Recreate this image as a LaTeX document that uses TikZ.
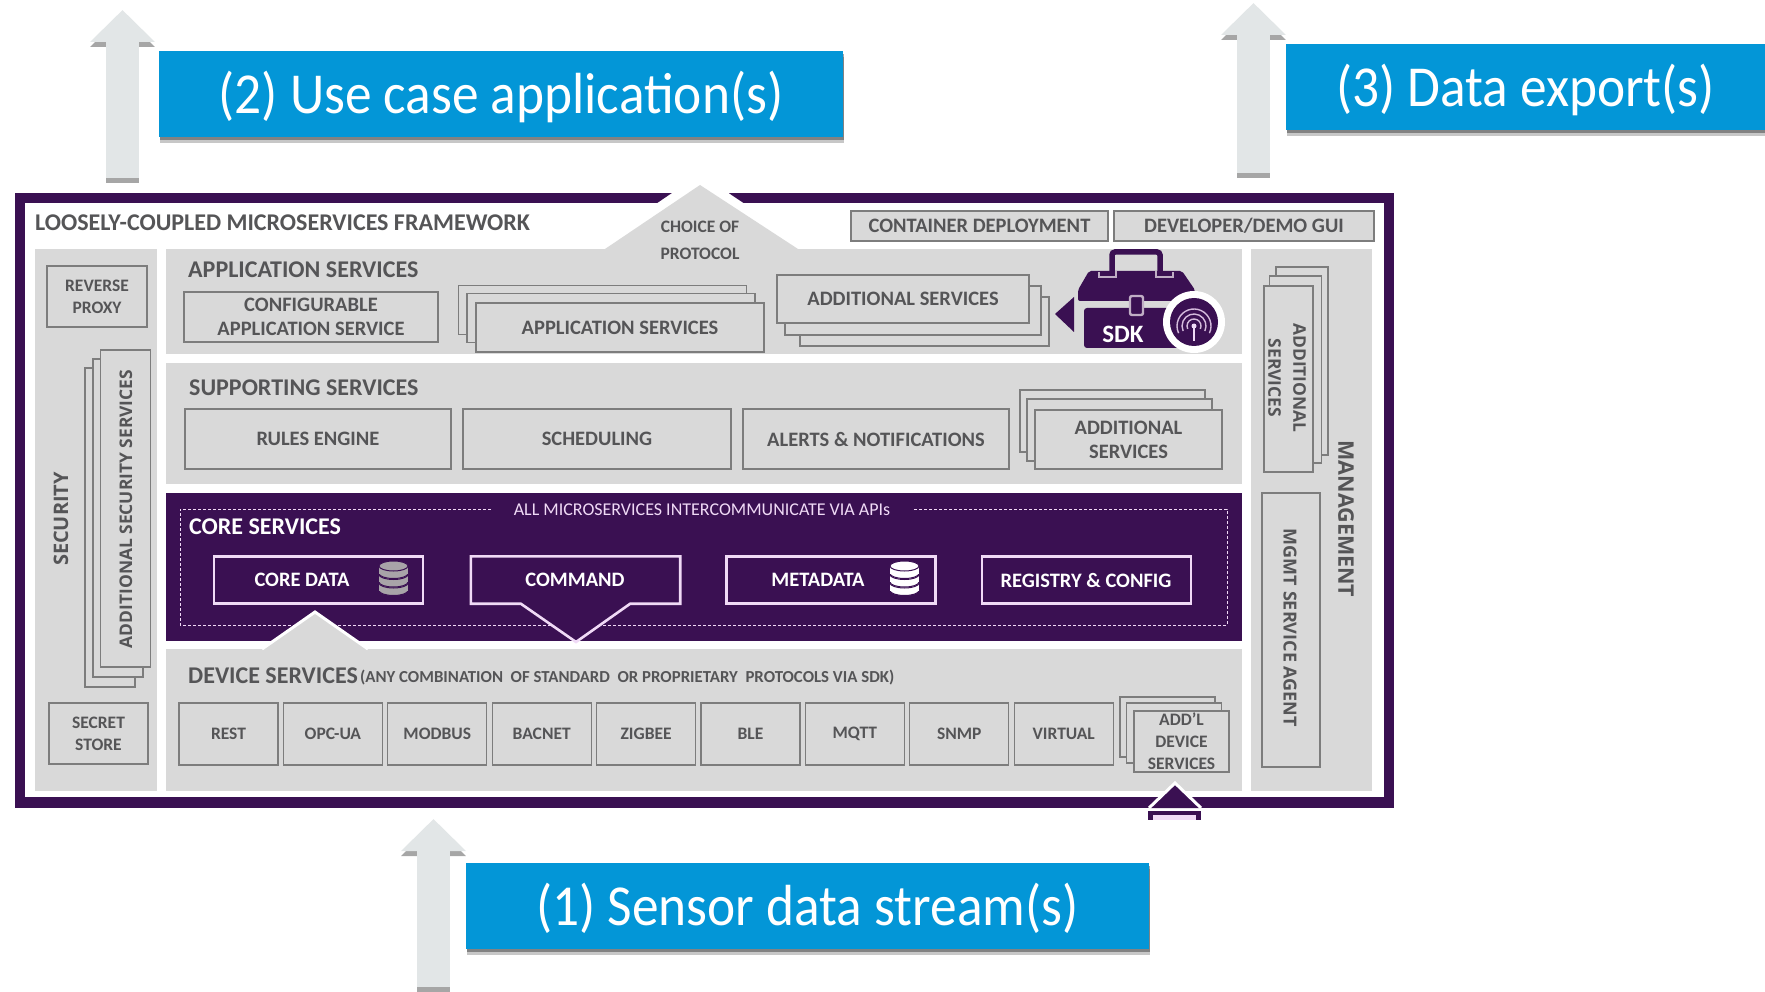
\documentclass[tikz,border=0pt]{standalone}
\usepackage{xcolor}
\usepackage{fontspec}
\setmainfont{Carlito}
\newfontfamily\widefont{Open Sans}
\newfontfamily\bannerfont[FakeStretch=0.92]{Carlito}
\usetikzlibrary{positioning,calc,arrows.meta,shadows}

\begin{document}
\begin{tikzpicture}[x=1pt,y=-1pt]
	\definecolor{framecolor}{RGB}{58,16,82}
	\definecolor{panelcolor}{RGB}{217,217,217}
	\definecolor{boxcolor}{RGB}{125,125,125}
	\definecolor{labelcolor}{RGB}{85,85,87}
	\definecolor{linecolor}{RGB}{240,218,246}
	\definecolor{bannercolor}{RGB}{3,150,215}
	\definecolor{arrowcolor}{RGB}{226,230,231}
	\definecolor{dbcolor}{RGB}{168,164,168}
	\def\boxfont{\bfseries\fontsize{20.5}{24}\selectfont}
	\def\headfont{\bfseries\fontsize{24}{24}\selectfont}
	\def\smallfont{\bfseries\fontsize{17.5}{22}\selectfont}
	\tikzstyle{panel}=[rectangle, fill=panelcolor, inner sep=0pt]
	\tikzstyle{svc}=[rectangle, draw=boxcolor, fill=panelcolor, line width=1.3pt, text=labelcolor, font=\boxfont, align=center, inner sep=0pt]
	\tikzstyle{devsvc}=[svc, font=\smallfont, minimum width=99pt, minimum height=62pt]
	\tikzstyle{head}=[text=labelcolor, font=\headfont, anchor=west, inner sep=0pt]
	\tikzstyle{wide}=[text=labelcolor, font=\widefont\bfseries\fontsize{17.4}{25}\selectfont, align=center, inner sep=0pt]
	\tikzstyle{core}=[rectangle, draw=linecolor, fill=framecolor, line width=2.6pt, minimum width=209pt, minimum height=47pt, inner sep=0pt]
	\tikzstyle{coretext}=[text=white, font=\boxfont, inner sep=0pt]
	\tikzstyle{banner}=[rectangle, fill=bannercolor, minimum height=86pt, inner sep=0pt, drop shadow={shadow xshift=1pt, shadow yshift=-6pt, opacity=.22, fill=black}, drop shadow={shadow xshift=1pt, shadow yshift=-3pt, opacity=.35, fill=black}]
	\tikzstyle{bannertext}=[text=white, font=\bannerfont\fontsize{58}{60}\selectfont, inner sep=0pt, yshift=-2.5pt]
	\tikzstyle{blockarrow}=[-{Triangle[length=32pt,width=63pt]}, line width=33pt, draw=arrowcolor]
	\tikzstyle{blockshadow}=[-{Triangle[length=32pt,width=63pt]}, line width=33pt, draw=black!35, transform canvas={yshift=-5pt}]
	\def\dbicon#1#2#3{
		\foreach \k in {2,1,0} {
			\pgfmathsetmacro{\yk}{#2+8.5*\k}
			\draw[framecolor, fill=#3, line width=1pt] (#1,\yk+7.5) ellipse [x radius=14.5pt, y radius=5pt];
			\fill[#3] (#1-14.5,\yk) rectangle (#1+14.5,\yk+7.5);
			\draw[framecolor, fill=#3, line width=1pt] (#1,\yk) ellipse [x radius=14.5pt, y radius=5pt];
		}
	}
	\useasboundingbox (0,0) rectangle (1765,992);

	% Draw the frame
	\fill[framecolor] (15,193) rectangle (1394,808);
	\fill[white] (25,203) rectangle (1384,797);
	\fill[white] (590,249) -- (700,174) -- (812,249) -- cycle;
	% Draw the grey panels
	\node[panel, minimum width=122pt, minimum height=542pt] (security) at (96,520) {};
	\node[panel, minimum width=1076pt, minimum height=105pt] (appsvc) at (704,301.5) {};
	\node[panel, minimum width=1076pt, minimum height=121pt] (supsvc) at (704,423.5) {};
	\node[panel, minimum width=1076pt, minimum height=148pt, fill=framecolor] (coresvc) at (704,567) {};
	\node[panel, minimum width=1076pt, minimum height=142pt] (devpanel) at (704,720) {};
	\node[panel, minimum width=121pt, minimum height=542pt] (mgmt) at (1311.5,520) {};
	\fill[panelcolor] (605,249) -- (700,185) -- (798,249) -- cycle;

	% Top row
	\node[head, text=labelcolor] (title) at (35,223) {LOOSELY-COUPLED MICROSERVICES FRAMEWORK};
	\node[text=labelcolor, font=\smallfont, align=center, inner sep=0pt] (choice) at (700,240) {CHOICE OF\\[5pt]PROTOCOL};
	\node[svc, minimum width=257pt, minimum height=30pt] (container) at (979.5,226) {CONTAINER DEPLOYMENT};
	\node[svc, minimum width=260pt, minimum height=30pt] (devgui) at (1244,226) {DEVELOPER/DEMO GUI};

	% Security column
	\node[svc, font=\smallfont, minimum width=100pt, minimum height=61pt] (proxy) at (97,296.5) {REVERSE\\PROXY};
	\foreach \name/\x/\ytop/\ybot in {3/110/368/687,2/118/359/677,1/125.5/350/667}
	 \node[svc, minimum width=50pt, minimum height=\ybot pt-\ytop pt] (secstack-\name) at (\x,{(\ytop+\ybot)/2}) {};
	\node[wide, rotate=90] (seclabel) at (126,509) {ADDITIONAL SECURITY SERVICES};
	\node[wide, rotate=90, font=\widefont\bfseries\fontsize{20}{20}\selectfont] (securitylabel) at (61,519) {SECURITY};
	\node[svc, font=\smallfont, minimum width=99pt, minimum height=61pt] (secret) at (98.5,733.5) {SECRET\\STORE};

	% Application services
	\node[head] (applabel) at (188,270) {APPLICATION SERVICES};
	\node[svc, minimum width=254pt, minimum height=50pt] (config) at (311,317) {CONFIGURABLE\\APPLICATION SERVICE};
	\foreach \name/\x/\y in {3/602.5/310,2/611/318}
	 \node[svc, minimum width=288pt, minimum height=49pt] (appstack-\name) at (\x,\y) {};
	\node[svc, minimum width=288pt, minimum height=49pt] (appstack-1) at (620,327.5) {APPLICATION SERVICES};
	\foreach \name/\x/\y/\w in {3/924.5/321.5/249,2/913/310.5/256}
	 \node[svc, minimum width=\w pt, minimum height=49pt] (addstack-\name) at (\x,\y) {};
	\node[svc, minimum width=252pt, minimum height=48pt] (addstack-1) at (903,299) {ADDITIONAL SERVICES};

	% SDK toolbox
	\fill[framecolor] (1074,297) -- (1055,314) -- (1074,332) -- cycle;
	\draw[framecolor, line width=5.5pt, rounded corners=3pt] (1112,274) -- (1112,252) -- (1160,252) -- (1160,274);
	\fill[framecolor, rounded corners=2pt] (1078,301) -- (1078,290) -- (1089,271) -- (1182,271) -- (1195,290) -- (1195,301) -- cycle;
	\fill[framecolor, rounded corners=3pt] (1084,308) -- (1190,308) -- (1190,348) -- (1084,348) -- cycle;
	\draw[linecolor!80!black, line width=2pt] (1099,272) -- (1099,277) -- (1116,277) -- (1116,271);
	\draw[linecolor!80!black, line width=2pt] (1156,271) -- (1156,277) -- (1173,277) -- (1173,272);
	\draw[linecolor!80!black, fill=framecolor, line width=2.4pt, rounded corners=2pt] (1130,296) rectangle (1143,315);
	\node[coretext, font=\bfseries\fontsize{25}{25}\selectfont] (sdk) at (1123,334) {SDK};
	\fill[white] (1194,322) circle (31pt);
	\fill[framecolor] (1194,322) circle (24pt);
	\foreach \r in {7,12,17}
	 \draw[linecolor!85!framecolor, line width=1.4pt] (1194,326) ++(-25:\r pt) arc [start angle=-25, end angle=205, radius=\r pt];
	\fill[linecolor] (1194,326) circle (2.5pt);
	\draw[linecolor, line width=2pt] (1194,326) -- (1194,341);

	% Supporting services
	\node[head] (suplabel) at (189,388) {SUPPORTING SERVICES};
	\node[svc, minimum width=266pt, minimum height=60pt] (rules) at (318,439) {RULES ENGINE};
	\node[svc, minimum width=268pt, minimum height=60pt] (sched) at (597,439) {SCHEDULING};
	\node[svc, minimum width=266pt, minimum height=60pt] (alerts) at (876,439) {ALERTS \& NOTIFICATIONS};
	\foreach \name/\x/\y in {3/1112.5/421,2/1119.5/430}
	 \node[svc, minimum width=185pt, minimum height=62pt] (supstack-\name) at (\x,\y) {};
	\node[svc, minimum width=187pt, minimum height=59pt] (supstack-1) at (1128.5,439.5) {ADDITIONAL\\SERVICES};

	% Core services
	\draw[linecolor, densely dashed, line width=1pt] (491,509) -- (180,509) -- (180,625) -- (1227,625) -- (1227,509) -- (913,509);
	\node[text=linecolor, font=\fontsize{18}{20}\selectfont, inner sep=0pt] (alllabel) at (702,510) {ALL MICROSERVICES INTERCOMMUNICATE VIA APIs};
	\node[head, text=white] (corelabel) at (189,527) {CORE SERVICES};
	\node[core] (coredata) at (318.5,580) {};
	\node[coretext] (coredatatext) at (302,580) {CORE DATA};
	\node[inner sep=0pt, minimum width=209pt, minimum height=47pt] (command) at (575.5,580) {};
	\coordinate (cmdtip) at (576,642);
	\draw[linecolor, fill=framecolor, line width=2.6pt] (command.north west) -- (command.north east) -- (command.south east) -- ([xshift=-50pt]command.south east) -- (cmdtip) -- ([xshift=50pt]command.south west) -- (command.south west) -- cycle;
	\node[coretext] (commandtext) at (575,580) {COMMAND};
	\node[core] (metadata) at (831,580) {};
	\node[coretext] (metadatatext) at (818,580) {METADATA};
	\node[core] (registry) at (1086.5,580) {};
	\node[coretext] (registrytext) at (1086,580) {REGISTRY \& CONFIG};
	\dbicon{393.5}{566}{dbcolor}
	\dbicon{904.5}{566}{white}

	% Device services
	\draw[white, fill=panelcolor, line width=3pt] (262,649) -- (315,612) -- (368,649);
	\node[head] (devlabel) at (188,676) {DEVICE SERVICES};
	\node[text=labelcolor, font=\bfseries\fontsize{16.8}{18}\selectfont, anchor=west, inner sep=0pt] (devnote) at (360,678) {(ANY COMBINATION\ \ OF STANDARD\ \ OR PROPRIETARY\ \ PROTOCOLS VIA SDK)};
	\foreach \name [count=\i from 0] in {REST,OPC-UA,MODBUS,BACNET,ZIGBEE,BLE,MQTT,SNMP,VIRTUAL}
	 \node[devsvc] (dev-\i) at (228.5+104.4*\i,734) {\name};
	\foreach \name/\x/\y in {3/1167.5/727,2/1174/733}
	 \node[svc, minimum width=95pt, minimum height=60pt] (devstack-\name) at (\x,\y) {};
	\node[svc, font=\smallfont, minimum width=95pt, minimum height=61pt] (devstack-1) at (1181.5,741.5) {ADD'L\\DEVICE\\SERVICES};

	% Bottom pointer
	\draw[white, fill=framecolor, line width=3pt] (1149,808) -- (1175,783) -- (1201,808);
	\fill[framecolor] (1148,811) rectangle (1201,820);
	\fill[linecolor] (1153,815) rectangle (1196,820);

	% Management column
	\node[wide, rotate=-90, font=\widefont\bfseries\fontsize{21.5}{22}\selectfont] (mgmtlabel) at (1346,519) {MANAGEMENT};
	\foreach \name/\x/\ytop/\ybot in {3/1302/267/455,2/1295.5/276/463}
	 \node[svc, minimum width=52pt, minimum height=\ybot pt-\ytop pt] (mgmtstack-\name) at (\x,{(\ytop+\ybot)/2}) {};
	\node[svc, minimum width=49pt, minimum height=186pt] (mgmtstack-1) at (1288.5,379) {};
	\node[wide, rotate=-90] (mgmtadd) at (1287,378) {ADDITIONAL\\SERVICES};
	\node[svc, minimum width=58pt, minimum height=274pt] (agent) at (1291,630) {};
	\node[wide, rotate=-90, font=\widefont\bfseries\fontsize{18}{20}\selectfont] (agentlabel) at (1290,628) {MGMT SERVICE AGENT};

	% Block arrows and banners
	\foreach \name/\x/\ytip/\ytail in {usecase/122.5/10/178,export/1253.5/3/173,sensor/433.5/819/987} {
	 \coordinate (tip-\name) at (\x,\ytip);
	 \coordinate (tail-\name) at (\x,\ytail);
	 \draw[blockshadow] (tail-\name) -- (tip-\name);
	 \draw[blockarrow] (tail-\name) -- (tip-\name);
	}
	\node[banner, minimum width=684pt] (usecase) at (501,94) {};
	\node[bannertext] (usecasetext) at (usecase) {(2) Use case application(s)};
	\node[banner, minimum width=479pt] (export) at (1525.5,87) {};
	\node[bannertext] (exporttext) at (export) {(3) Data export(s)};
	\node[banner, minimum width=683pt] (sensor) at (807.5,906) {};
	\node[bannertext] (sensortext) at (sensor) {(1) Sensor data stream(s)};
\end{tikzpicture}
\end{document}
